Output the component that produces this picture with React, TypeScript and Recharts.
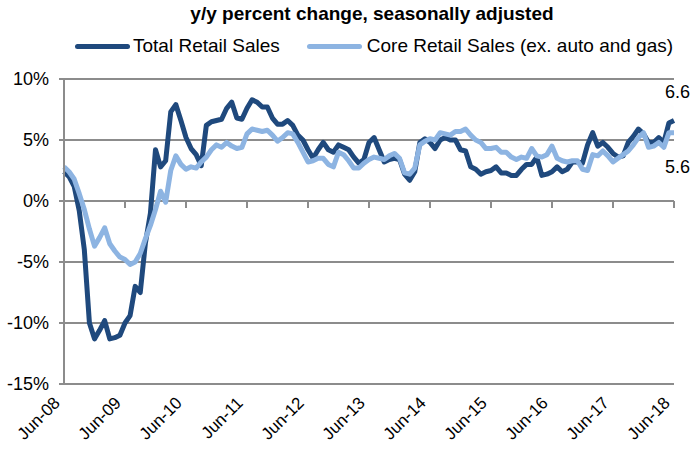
import { LineChart, Line, XAxis, YAxis, CartesianGrid } from "recharts";

document.body.style.margin = "0";

const MONTHS = ["Jan", "Feb", "Mar", "Apr", "May", "Jun", "Jul", "Aug", "Sep", "Oct", "Nov", "Dec"];

// monthly labels Jun-08 .. Jun-18
const categories = Array.from({ length: 121 }, (_, i) => {
  const m = (5 + i) % 12;
  const y = 8 + Math.floor((5 + i) / 12);
  return `${MONTHS[m]}-${String(y).padStart(2, "0")}`;
});

const totalRetail = [
  2.4, 2.0, 1.2, -0.8, -4.0, -10.0, -11.3, -10.6, -9.8, -11.3,
  -11.2, -11.0, -10.0, -9.4, -7.0, -7.5, -3.5, -1.0, 4.2, 2.8,
  3.3, 7.3, 7.9, 6.6, 5.2, 4.3, 3.8, 2.9, 6.2, 6.5,
  6.6, 6.7, 7.6, 8.1, 6.8, 6.7, 7.6, 8.3, 8.1, 7.7,
  7.7, 6.8, 6.3, 6.3, 6.6, 6.2, 5.4, 5.0, 4.2, 3.5,
  4.2, 4.8, 4.2, 4.0, 4.6, 4.4, 4.2, 3.6, 3.1, 3.4,
  4.8, 5.2, 4.2, 3.2, 3.4, 3.5, 3.4, 2.2, 1.7, 2.4,
  4.8, 5.1, 4.8, 4.3, 5.0, 5.2, 5.0, 5.0, 4.2, 4.1,
  2.8, 2.6, 2.2, 2.4, 2.5, 2.8, 2.3, 2.3, 2.1, 2.1,
  2.6, 3.0, 3.0, 3.6, 2.1, 2.2, 2.4, 2.8, 2.4, 2.6,
  3.2, 3.2, 3.1, 4.6, 5.6, 4.5, 4.8, 4.4, 3.9, 3.6,
  3.7, 4.8, 5.3, 5.9, 5.5, 4.8, 4.8, 5.2, 4.8, 6.4, 6.6,
];

const coreRetail = [
  2.8, 2.4, 1.8, 0.6, -0.7, -2.3, -3.7, -3.0, -2.2, -3.5,
  -4.1, -4.6, -4.8, -5.2, -5.0, -4.3, -3.1, -2.0, -0.7, 0.8,
  -0.1, 2.5, 3.7, 3.0, 2.6, 2.8, 2.7, 3.2, 3.6, 4.2,
  4.6, 4.4, 4.8, 4.5, 4.3, 4.4, 5.5, 5.9, 5.8, 5.7,
  5.8, 5.4, 4.9, 5.2, 5.6, 5.5, 4.8, 4.0, 3.2, 3.3,
  3.5, 3.5, 3.0, 2.8, 4.0, 3.8, 3.3, 2.7, 2.7, 3.1,
  3.4, 3.6, 3.5, 3.4, 3.7, 3.9, 3.5, 2.3, 2.2, 2.7,
  4.6, 4.9, 5.1, 5.0, 5.6, 5.5, 5.4, 5.7, 5.7, 5.9,
  5.4, 5.0, 4.8, 4.3, 4.3, 4.4, 4.0, 4.0, 3.6, 3.4,
  3.6, 3.5, 4.3, 3.7, 3.6, 3.8, 4.5, 3.5, 3.3, 3.2,
  3.3, 3.3, 2.6, 2.5, 3.8, 3.7, 4.1, 3.7, 3.2, 3.5,
  3.8, 4.1, 4.6, 5.2, 5.6, 4.4, 4.5, 4.8, 4.4, 5.6, 5.6,
];

const yTicks = [-15, -10, -5, 0, 5, 10];

const data = categories.map((date, i) => ({
  date,
  total: totalRetail[i],
  core: coreRetail[i],
}));

const DARK = "#1f497d";
const LIGHT = "#8db4e2";
const GRID = "#8c8c8c";
const FONT = "'Liberation Sans', Arial, sans-serif";

const PLOT_TOP = 79;
const PLOT_BOTTOM = 384;
const ZERO_Y = PLOT_TOP + (10 / 25) * (PLOT_BOTTOM - PLOT_TOP);

const XTick = (props: any) => {
  const { x, y, payload } = props;
  const ax = x - 3;
  const ay = y + 12;
  return (
    <g>
      <line x1={x} x2={x} y1={ZERO_Y} y2={ZERO_Y + 7} stroke={GRID} strokeWidth={2} />
      <text
        x={ax}
        y={ay}
        textAnchor="end"
        fontSize={17}
        fontFamily={FONT}
        fill="#000"
        transform={`rotate(-45 ${ax} ${ay})`}
      >
        {payload.value}
      </text>
    </g>
  );
};

const endLabel = (dy: number) => (props: any) => {
  const { x, y, index, value } = props;
  if (index !== data.length - 1) return null;
  return (
    <text x={x - 9} y={y + dy} fontSize={18} fontFamily={FONT} fill="#000">
      {value.toFixed(1)}
    </text>
  );
};

export default function App() {
  return (
    <div style={{ position: "relative", width: 693, height: 454, fontFamily: FONT, background: "#fff" }}>
      <div
        style={{
          position: "absolute",
          left: 372,
          top: 3,
          transform: "translateX(-50%)",
          whiteSpace: "nowrap",
          fontWeight: "bold",
          fontSize: 19,
        }}
      >
        y/y percent change, seasonally adjusted
      </div>
      <div
        style={{
          position: "absolute",
          left: 75,
          top: 35,
          display: "flex",
          alignItems: "center",
          whiteSpace: "nowrap",
          fontSize: 19,
        }}
      >
        <span style={{ display: "inline-block", width: 55, height: 5, background: DARK, borderRadius: 3 }} />
        <span style={{ marginLeft: 3 }}>Total Retail Sales</span>
        <span style={{ display: "inline-block", width: 55, height: 5, background: LIGHT, borderRadius: 3, marginLeft: 27 }} />
        <span style={{ marginLeft: 5 }}>Core Retail Sales (ex. auto and gas)</span>
      </div>
      <LineChart
        width={693}
        height={454}
        data={data}
        margin={{ top: PLOT_TOP, right: 19, bottom: 0, left: 0 }}
      >
        <CartesianGrid vertical={false} stroke={GRID} strokeWidth={2} />
        <XAxis
          dataKey="date"
          interval={11}
          tickLine={false}
          axisLine={{ stroke: GRID, strokeWidth: 2 }}
          tick={<XTick />}
          height={454 - PLOT_BOTTOM}
        />
        <YAxis
          domain={[-15, 10]}
          ticks={yTicks}
          width={64}
          tickFormatter={(v: number) => `${v}%`}
          tick={{ fontSize: 18, fill: "#000", fontFamily: FONT }}
          tickLine={{ stroke: GRID, strokeWidth: 2 }}
          tickSize={5}
          tickMargin={10}
          axisLine={{ stroke: GRID, strokeWidth: 2 }}
        />
        <Line
          dataKey="total"
          stroke={DARK}
          strokeWidth={5}
          dot={false}
          isAnimationActive={false}
          strokeLinejoin="round"
          label={endLabel(-22)}
        />
        <Line
          dataKey="core"
          stroke={LIGHT}
          strokeWidth={5}
          dot={false}
          isAnimationActive={false}
          strokeLinejoin="round"
          label={endLabel(40)}
        />
      </LineChart>
    </div>
  );
}
